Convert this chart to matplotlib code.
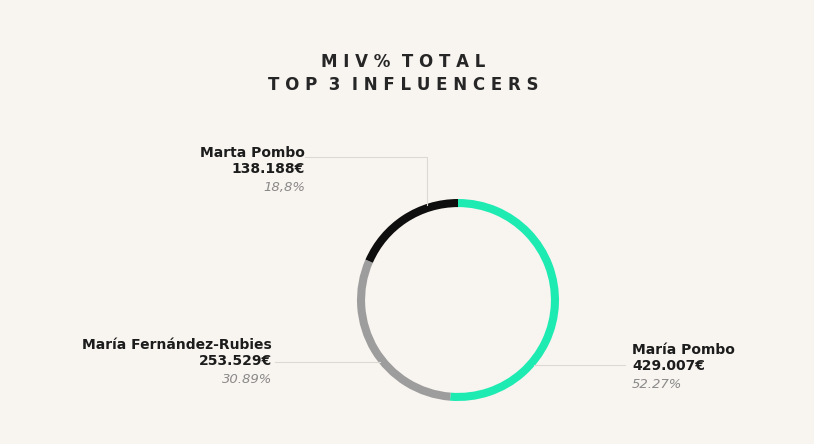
import matplotlib
matplotlib.use("Agg")
import matplotlib.pyplot as plt
from matplotlib.lines import Line2D

plt.rcParams['font.family'] = ['DejaVu Sans']

# data
names = ['María Pombo', 'María Fernández-Rubies', 'Marta Pombo']
amounts = ['429.007€', '253.529€', '138.188€']
shares = [52.27, 30.89, 18.8]
share_labels = ['52.27%', '30.89%', '18,8%']
colors = ['#1eebb2', '#9d9d9d', '#0e0e0e']

W, H = 814, 444
fig = plt.figure(figsize=(W / 100, H / 100), dpi=100)
fig.patch.set_facecolor('#f8f4f0')


def px(x, y):
    return x / W, 1 - y / H


# donut
cx, cy, r = 458, 300, 101
ax = fig.add_axes([(cx - r) / W, (H - cy - r) / H, 2 * r / W, 2 * r / H])
ax.pie(shares, colors=colors, startangle=90, counterclock=False,
       wedgeprops=dict(width=0.08, edgecolor='none'))
ax.set_xlim(-1, 1)
ax.set_ylim(-1, 1)
ax.axis('off')

# title
fig.text(*px(403, 62), 'M I V %  T O T A L', ha='center', va='center',
         fontsize=12, fontweight='bold', color='#262626')
fig.text(*px(403, 85), 'T O P  3  I N F L U E N C E R S', ha='center', va='center',
         fontsize=12, fontweight='bold', color='#262626')

# leader lines (faint)
line_col = '#dcd8d4'
for xs, ys in [([305, 427, 427], [157, 157, 205]),
               ([275, 380], [362, 362]),
               ([534, 625], [365, 365])]:
    fx = [x / W for x in xs]
    fy = [1 - y / H for y in ys]
    fig.add_artist(Line2D(fx, fy, color=line_col, lw=0.8))

# labels
label_pos = [(632, 350, 'left'), (272, 345, 'right'), (305, 153, 'right')]
for (x, y, ha), n, a, s in zip(label_pos, names, amounts, share_labels):
    fig.text(*px(x, y), n, ha=ha, va='center', fontsize=10,
             fontweight='bold', color='#1c1c1c')
    fig.text(*px(x, y + 16), a, ha=ha, va='center', fontsize=10,
             fontweight='bold', color='#1c1c1c')
    fig.text(*px(x, y + 34), s, ha=ha, va='center', fontsize=9.5,
             style='italic', color='#8a8a8a')

fig.savefig('out.png', dpi=100, facecolor=fig.get_facecolor())
